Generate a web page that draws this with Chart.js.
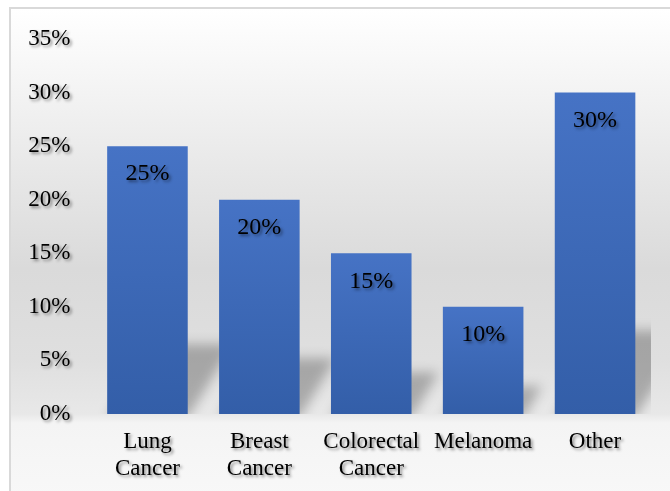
<!DOCTYPE html>
<html>
<head>
<meta charset="utf-8">
<script src="https://cdn.jsdelivr.net/npm/chart.js@4/dist/chart.umd.min.js"></script>
<style>
  html, body { margin: 0; padding: 0; background: #ffffff; overflow: hidden; }
  #frame {
    position: absolute; left: 9px; top: 7px; width: 700px; height: 520px;
    box-sizing: border-box; border: 2px solid #d9d9d9;
    background: linear-gradient(to bottom, #ffffff 0px, #f8f8f8 50px, #e8e8e8 160px,
      #dadada 260px, #dfdfdf 350px, #e8e8e8 405px, #f4f4f4 414px, #f8f8f8 490px);
  }
  #wrap { position: absolute; left: 0; top: 0; width: 670px; height: 491px; }
</style>
</head>
<body>
<div id="frame"></div>
<div id="wrap"><canvas id="chart" width="670" height="491"></canvas></div>
<script>
// Share of cancer cases by type (percent)
const categories = [['Lung', 'Cancer'], ['Breast', 'Cancer'], ['Colorectal', 'Cancer'], ['Melanoma'], ['Other']];
const shares = [25, 20, 15, 10, 30];
const yTicks = { min: 0, max: 35, step: 5 };

const FONT = "'Liberation Serif', 'Times New Roman', serif";
const BAR_TOP = '#4673c5';
const BAR_BOTTOM = '#335ea8';

// Per-bar vertical gradient
function barFill(ctx) {
  const chart = ctx.chart;
  if (!chart.chartArea || ctx.type !== 'data') return BAR_TOP;
  const y = chart.scales.y;
  const top = y.getPixelForValue(ctx.raw);
  const base = y.getPixelForValue(0);
  const g = chart.ctx.createLinearGradient(0, top, 0, base);
  g.addColorStop(0, BAR_TOP);
  g.addColorStop(1, BAR_BOTTOM);
  return g;
}

// Soft perspective shadow cast behind each bar
const castShadow = {
  id: 'castShadow',
  beforeDatasetsDraw(chart) {
    const ctx = chart.ctx, area = chart.chartArea;
    const meta = chart.getDatasetMeta(0);
    ctx.save();
    ctx.beginPath();
    ctx.rect(area.left, area.top, area.right - area.left, area.bottom - area.top);
    ctx.clip();
    ctx.filter = 'blur(6px)';
    ctx.fillStyle = 'rgba(0,0,0,0.26)';
    meta.data.forEach(bar => {
      const { x, y, base, width } = bar.getProps(['x', 'y', 'base', 'width'], true);
      const h = (base - y) * 0.26, dx = h * 0.65;
      const l = x - width / 2, r = x + width / 2;
      ctx.beginPath();
      ctx.moveTo(l, base + 4);
      ctx.lineTo(r, base + 4);
      ctx.lineTo(r + dx, base - h);
      ctx.lineTo(l + dx, base - h);
      ctx.closePath();
      ctx.fill();
    });
    ctx.restore();
  }
};

// Text shadow for tick labels (drawn on layer z=1) and value labels
const textShadow = {
  id: 'textShadow',
  afterDatasetsDraw(chart) {
    const ctx = chart.ctx;
    ctx.save();
    ctx.shadowColor = 'rgba(0,0,0,0.45)';
    ctx.shadowOffsetX = 2;
    ctx.shadowOffsetY = 2;
    ctx.shadowBlur = 3;
  },
  afterDraw(chart) {
    const ctx = chart.ctx;
    const meta = chart.getDatasetMeta(0);
    ctx.font = '24px ' + FONT;
    ctx.fillStyle = '#000000';
    ctx.textAlign = 'center';
    ctx.textBaseline = 'middle';
    meta.data.forEach((bar, i) => {
      const { x, y } = bar.getProps(['x', 'y'], true);
      ctx.fillText(shares[i] + '%', x, y + 28);
    });
    ctx.restore();
  }
};

new Chart(document.getElementById('chart'), {
  type: 'bar',
  data: {
    labels: categories,
    datasets: [{
      data: shares,
      backgroundColor: barFill,
      borderWidth: 0,
      barPercentage: 0.9,
      categoryPercentage: 0.8
    }]
  },
  options: {
    responsive: false,
    animation: false,
    events: [],
    layout: { padding: { top: 39, right: 19, bottom: 0, left: 0 } },
    plugins: { legend: { display: false }, tooltip: { enabled: false } },
    scales: {
      x: {
        grid: { display: false, drawTicks: false },
        border: { display: false },
        ticks: { z: 1, color: '#000000', font: { family: FONT, size: 23 }, padding: 14, maxRotation: 0, autoSkip: false },
        afterFit: s => { s.height = 77; }
      },
      y: {
        min: yTicks.min, max: yTicks.max,
        grid: { display: false, drawTicks: false },
        border: { display: false },
        ticks: {
          z: 1, stepSize: yTicks.step, color: '#000000', padding: 21,
          font: { family: FONT, size: 23 },
          callback: v => v + '%'
        },
        afterFit: s => { s.width = 91.5; }
      }
    }
  },
  plugins: [castShadow, textShadow]
});
</script>
</body>
</html>
